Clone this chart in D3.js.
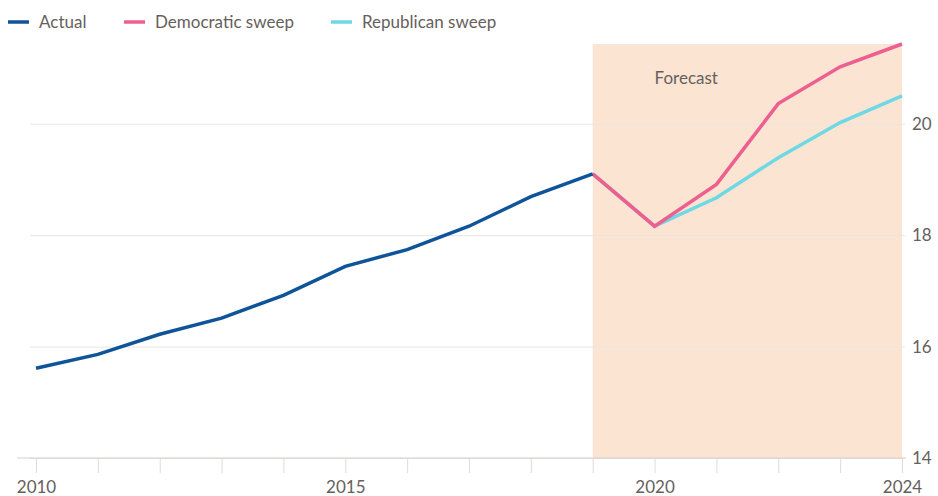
<!DOCTYPE html>
<html>
<head>
<meta charset="utf-8">
<script src="https://cdn.jsdelivr.net/npm/d3@7"></script>
<style>
  body { margin: 0; background: #fff; }
  svg { display: block; font-family: Lato, 'Open Sans', sans-serif; }
</style>
</head>
<body>
<svg id="chart"></svg>
<script>
const actualYears = [2010, 2011, 2012, 2013, 2014, 2015, 2016, 2017, 2018, 2019]
const actualValues = [15.61, 15.86, 16.22, 16.51, 16.92, 17.44, 17.74, 18.16, 18.69, 19.1]
const forecastYears = [2019, 2020, 2021, 2022, 2023, 2024]
const democraticValues = [19.1, 18.16, 18.91, 20.36, 21.02, 21.43]
const republicanValues = [19.1, 18.16, 18.67, 19.39, 20.02, 20.5]
const yTicks = [14, 16, 18, 20]
const xLabels = [2010, 2015, 2020, 2024]
const forecastSpan = [2019, 2024]
const legendItems = [
  { label: 'Actual', color: '#0f5499' },
  { label: 'Democratic sweep', color: '#ec5f8e' },
  { label: 'Republican sweep', color: '#6ed8e4' }
]

const dimension = { width: 938, height: 496 }
const margin = { top: 44, right: 36, bottom: 40, left: 36 }
const width = dimension.width - margin.left - margin.right
const height = dimension.height - margin.top - margin.bottom

const svg = d3.select('#chart')
  .attr('width', dimension.width)
  .attr('height', dimension.height)

const g = svg.append('g').attr('transform', `translate(${margin.left}, ${margin.top})`)

const xScale = d3.scaleLinear().domain([2010, 2024]).range([0, width])
const yScale = d3.scaleLinear().domain([14, 21.43]).range([height + 2, 0])

// forecast shading
g.append('rect')
  .attr('x', xScale(forecastSpan[0]))
  .attr('y', yScale(21.43))
  .attr('width', xScale(forecastSpan[1]) - xScale(forecastSpan[0]))
  .attr('height', yScale(14) - yScale(21.43))
  .attr('fill', '#fce4d3')

g.append('text')
  .attr('x', xScale(2020))
  .attr('y', 40)
  .attr('fill', '#66605c')
  .attr('font-size', 17)
  .text('Forecast')

// gridlines + right labels
const yAxis = g.append('g')
  .attr('class', 'yaxis')
  .attr('transform', `translate(${width + 3}, 0)`)
  .call(d3.axisRight(yScale).tickValues(yTicks).tickSize(-(width + 9)).tickPadding(7))
yAxis.select('.domain').remove()
yAxis.selectAll('.tick line').attr('stroke', '#ebe5e0')
yAxis.selectAll('.tick text')
  .attr('fill', '#66605c')
  .attr('font-size', 17)
  .attr('font-family', 'Lato, sans-serif')

// bottom axis
const xAxis = g.append('g')
  .attr('class', 'xaxis')
  .attr('transform', `translate(0, ${yScale(14)})`)
  .call(d3.axisBottom(xScale).tickValues(d3.range(2010, 2025)).tickSize(15).tickPadding(8)
    .tickFormat((d) => (xLabels.includes(d) ? d : '')))
xAxis.select('.domain')
  .attr('d', `M${-19},0H${width + 4}`)
  .attr('stroke', '#d8cfc8')
xAxis.selectAll('.tick line').attr('stroke', '#e2dad4')
xAxis.selectAll('.tick text')
  .attr('fill', '#66605c')
  .attr('font-size', 17)
  .attr('font-family', 'Lato, sans-serif')

const line = d3.line().x((d) => xScale(d[0])).y((d) => yScale(d[1]))

g.append('path')
  .datum(d3.zip(forecastYears, republicanValues))
  .attr('d', line)
  .attr('fill', 'none')
  .attr('stroke', legendItems[2].color)
  .attr('stroke-width', 3.5)

g.append('path')
  .datum(d3.zip(forecastYears, democraticValues))
  .attr('d', line)
  .attr('fill', 'none')
  .attr('stroke', legendItems[1].color)
  .attr('stroke-width', 3.5)

g.append('path')
  .datum(d3.zip(actualYears, actualValues))
  .attr('d', line)
  .attr('fill', 'none')
  .attr('stroke', legendItems[0].color)
  .attr('stroke-width', 3.5)

// legend
const legendX = [8, 124, 331]
const legend = svg.append('g')
legendItems.forEach((item, i) => {
  legend.append('line')
    .attr('x1', legendX[i]).attr('x2', legendX[i] + 21)
    .attr('y1', 22).attr('y2', 22)
    .attr('stroke', item.color)
    .attr('stroke-width', 3.5)
  legend.append('text')
    .attr('x', legendX[i] + 31)
    .attr('y', 28)
    .attr('fill', '#66605c')
    .attr('font-size', 17)
    .text(item.label)
})
</script>
</body>
</html>
